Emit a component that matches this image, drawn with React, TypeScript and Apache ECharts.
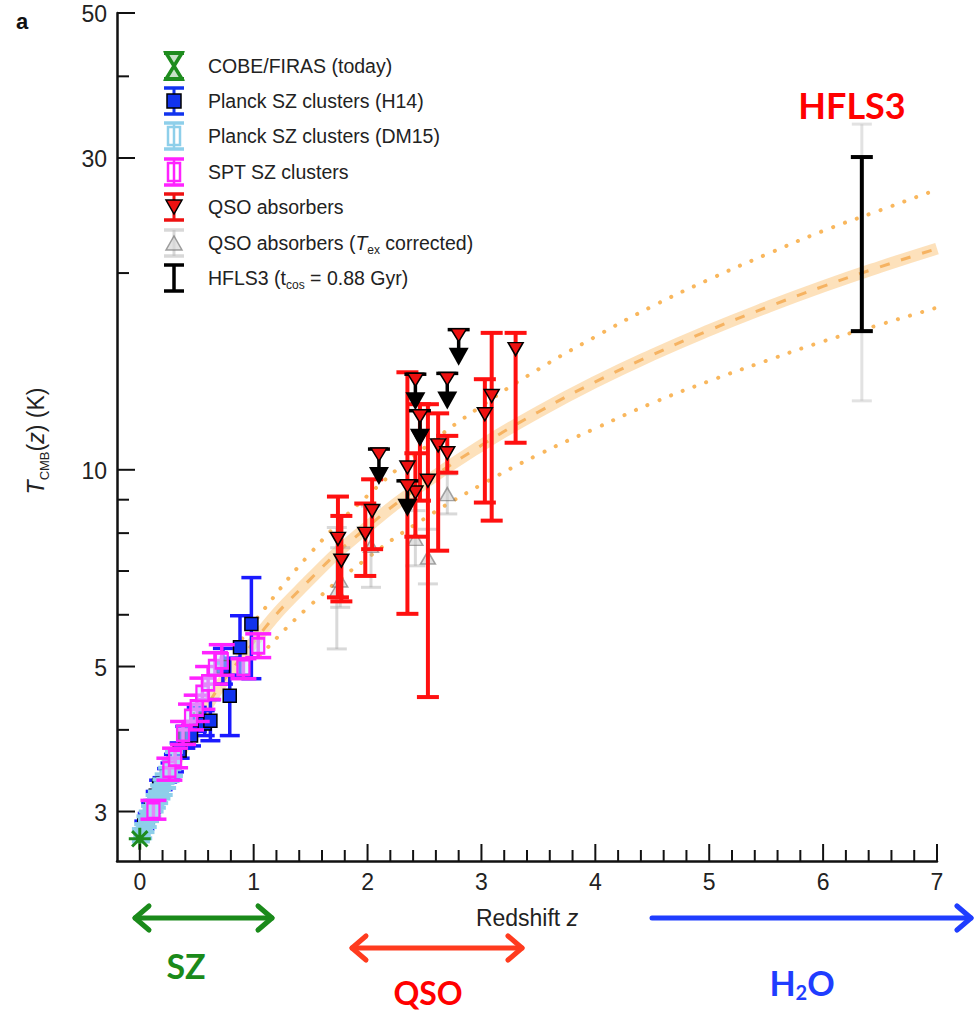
import React, { useEffect, useRef } from 'react';
import * as echarts from 'echarts';

// ---------- axis settings ----------
const Z_MIN = -0.2;
const Z_MAX = 7;
const T_MIN = 2.52;
const T_MAX = 50;

const xMajorTicks = [0, 1, 2, 3, 4, 5, 6, 7];
const xMinorSteps = [0.2, 0.4, 0.6, 0.8];
const yMajorTicks = [3, 5, 10, 30, 50];
const yMinorTicks = [4, 6, 7, 8, 9, 20, 40];

// ---------- data: [z, T, Tlow, Thigh] ----------
const cobeFiras = [[0, 2.725]];

const planckDM15 = [
  [0.01, 2.76, 2.70, 2.82],
  [0.03, 2.80, 2.73, 2.87],
  [0.05, 2.87, 2.79, 2.95],
  [0.07, 2.92, 2.84, 3.00],
  [0.09, 2.98, 2.90, 3.06],
  [0.11, 3.03, 2.94, 3.12],
  [0.13, 3.09, 3.00, 3.18],
  [0.15, 3.13, 3.04, 3.22],
  [0.17, 3.19, 3.09, 3.29],
  [0.19, 3.25, 3.14, 3.36],
  [0.21, 3.30, 3.18, 3.42],
  [0.24, 3.38, 3.26, 3.50],
  [0.27, 3.47, 3.34, 3.60],
  [0.30, 3.55, 3.40, 3.70],
];

const planckH14 = [
  [0.04, 2.86, 2.82, 2.90],
  [0.07, 2.94, 2.90, 2.98],
  [0.10, 3.04, 2.99, 3.09],
  [0.14, 3.17, 3.12, 3.22],
  [0.17, 3.29, 3.23, 3.35],
  [0.20, 3.31, 3.24, 3.38],
  [0.24, 3.41, 3.33, 3.49],
  [0.27, 3.47, 3.39, 3.56],
  [0.30, 3.56, 3.45, 3.67],
  [0.35, 3.72, 3.62, 3.82],
  [0.40, 3.90, 3.75, 4.05],
  [0.45, 3.92, 3.78, 4.06],
  [0.50, 4.15, 3.98, 4.33],
  [0.57, 4.09, 3.92, 4.28],
  [0.62, 4.13, 3.85, 4.45],
  [0.73, 4.99, 4.70, 5.33],
  [0.79, 4.51, 3.92, 5.15],
  [0.88, 5.35, 4.85, 5.98],
  [0.98, 5.81, 4.79, 6.84],
];

const sptSZ = [
  [0.12, 3.01, 2.92, 3.12],
  [0.26, 3.48, 3.35, 3.62],
  [0.31, 3.62, 3.50, 3.75],
  [0.38, 3.95, 3.80, 4.12],
  [0.45, 4.18, 4.00, 4.38],
  [0.50, 4.32, 4.12, 4.52],
  [0.55, 4.55, 4.30, 4.80],
  [0.60, 4.72, 4.45, 5.00],
  [0.66, 4.98, 4.70, 5.25],
  [0.72, 5.10, 4.85, 5.40],
  [0.91, 4.98, 4.79, 5.14],
  [1.04, 5.38, 5.16, 5.61],
];

const qsoCorrected = [
  [1.73, 6.53, 5.32, 8.16],
  [1.76, 6.77, 6.16, 7.60],
  [2.03, 7.65, 6.61, 8.80],
  [2.42, 7.84, 7.13, 8.66],
  [2.53, 7.34, 6.69, 8.11],
  [2.70, 9.18, 8.56, 9.85],
];

const qsoAbsorbers = [
  [1.74, 7.84, 6.38, 9.10],
  [1.77, 7.26, 6.29, 8.50],
  [1.98, 7.98, 6.88, 8.88],
  [2.04, 8.65, 7.56, 9.67],
  [2.35, 10.08, 6.02, 14.1],
  [2.42, 9.23, 7.90, 10.6],
  [2.46, 11.2, 8.97, 12.6],
  [2.53, 9.62, 4.49, 12.6],
  [2.62, 10.9, 7.52, 12.2],
  [2.70, 10.6, 9.90, 11.27],
  [3.03, 12.16, 8.91, 13.76],
  [3.09, 12.97, 8.36, 16.2],
  [3.30, 15.3, 11.0, 16.2],
];

// upper limits: [z, T]
const qsoUpperLimits = [
  [2.10, 10.57],
  [2.35, 9.45],
  [2.42, 13.76],
  [2.46, 12.1],
  [2.70, 13.8],
  [2.80, 16.1],
];

const hfls3 = [[6.34, 22.1, 16.3, 30.1]];
const hfls3Wide = [[6.34, 20.8, 12.75, 33.8]];

// model curves
const modelZ = [0, 0.5, 1, 1.5, 2, 2.5, 3, 3.5, 4, 4.5, 5, 5.5, 6, 6.5, 7];
const modelT = [2.73, 4.09, 5.45, 6.81, 8.18, 9.54, 10.9, 12.26, 13.63, 14.99, 16.35, 17.71, 19.08, 20.44, 21.8];
const boundZ = [0.9, 1, 1.5, 2, 2.5, 3, 3.5, 4, 4.5, 5, 5.5, 6, 6.5, 7];
const upperT = [5.52, 5.84, 7.46, 9.13, 10.81, 12.52, 14.25, 15.98, 17.79, 19.56, 21.35, 23.2, 24.95, 26.84];
const lowerT = [4.86, 5.08, 6.21, 7.33, 8.42, 9.49, 10.55, 11.57, 12.65, 13.67, 14.68, 15.72, 16.68, 17.71];

const legendLabels = [
  'COBE/FIRAS (today)',
  'Planck SZ clusters (H14)',
  'Planck SZ clusters (DM15)',
  'SPT SZ clusters',
  'QSO absorbers',
  '{n|QSO absorbers (}{i|T}{s|ex}{n| corrected)}',
  '{n|HFLS3 (t}{s|cos}{n| = 0.88 Gyr)}',
];

const FONT = '"Liberation Sans", Arial, Helvetica, sans-serif';
const GREEN = '#1E8C1E';
const BLUE = '#1133EE';
const LIGHTBLUE = '#8ECFEA';
const MAGENTA = '#FF22FF';
const RED = '#EE1111';
const GRAY_BAR = 'rgba(170,170,170,0.45)';

function errorBarRender(color: string, lw: number, capHalf: number) {
  return (_params: any, api: any) => {
    const z = api.value(0);
    const lo = api.value(2);
    const hi = api.value(3);
    const top = api.coord([z, hi]);
    const bot = api.coord([z, lo]);
    const style = { stroke: color, lineWidth: lw };
    return {
      type: 'group',
      children: [
        { type: 'line', shape: { x1: top[0], y1: top[1], x2: bot[0], y2: bot[1] }, style },
        { type: 'line', shape: { x1: top[0] - capHalf, y1: top[1], x2: top[0] + capHalf, y2: top[1] }, style },
        { type: 'line', shape: { x1: bot[0] - capHalf, y1: bot[1], x2: bot[0] + capHalf, y2: bot[1] }, style },
      ],
    };
  };
}

function upperLimitRender(_params: any, api: any) {
  const p = api.coord([api.value(0), api.value(1)]);
  const x = p[0];
  const y = p[1];
  return {
    type: 'group',
    children: [
      { type: 'line', shape: { x1: x, y1: y, x2: x, y2: y + 18 }, style: { stroke: '#000', lineWidth: 3.5 } },
      { type: 'polygon', shape: { points: [[x - 10, y + 13], [x + 10, y + 13], [x, y + 31]] }, style: { fill: '#000' } },
      { type: 'line', shape: { x1: x - 11, y1: y - 5, x2: x + 11, y2: y - 5 }, style: { stroke: '#000', lineWidth: 3.5 } },
      {
        type: 'polygon',
        shape: { points: [[x - 8, y - 6], [x + 8, y - 6], [x, y + 7]] },
        style: { fill: RED, stroke: '#000', lineWidth: 1.5 },
      },
    ],
  };
}

function xTickRender(_params: any, api: any) {
  const z = api.value(0);
  const major = api.value(2) === 1;
  const p = api.coord([z, T_MIN]);
  const children: any[] = [
    { type: 'line', shape: { x1: p[0], y1: p[1], x2: p[0], y2: p[1] - (major ? 17 : 11) }, style: { stroke: '#111', lineWidth: 2 } },
  ];
  if (major) {
    children.push({
      type: 'text',
      x: p[0],
      y: p[1] + 9,
      style: { text: String(z), fontSize: 23, fontFamily: FONT, fill: '#222', align: 'center', verticalAlign: 'top' },
    });
  }
  return { type: 'group', children };
}

function yTickRender(_params: any, api: any) {
  const t = api.value(1);
  const major = api.value(2) === 1;
  const p = api.coord([Z_MIN, t]);
  const children: any[] = [
    { type: 'line', shape: { x1: p[0], y1: p[1], x2: p[0] + (major ? 18 : 12), y2: p[1] }, style: { stroke: '#111', lineWidth: 2 } },
  ];
  if (major) {
    children.push({
      type: 'text',
      x: p[0] - 10,
      y: p[1] + 1,
      style: { text: String(t), fontSize: 23, fontFamily: FONT, fill: '#222', align: 'right', verticalAlign: 'middle' },
    });
  }
  return { type: 'group', children };
}

function legendGlyph(i: number, cx: number, y: number): any[] {
  const cap = (c: string, lw = 3.5) => [
    { type: 'line', shape: { x1: cx - 10, y1: y - 13, x2: cx + 10, y2: y - 13 }, style: { stroke: c, lineWidth: lw } },
    { type: 'line', shape: { x1: cx - 10, y1: y + 13, x2: cx + 10, y2: y + 13 }, style: { stroke: c, lineWidth: lw } },
  ];
  const vline = (c: string, lw = 3) => ({ type: 'line', shape: { x1: cx, y1: y - 13, x2: cx, y2: y + 13 }, style: { stroke: c, lineWidth: lw } });
  switch (i) {
    case 0:
      return [
        ...cap(GREEN, 4),
        { type: 'polygon', shape: { points: [[cx - 8, y - 13], [cx + 8, y - 13], [cx, y], [cx + 8, y + 13], [cx - 8, y + 13], [cx, y]] }, style: { fill: 'rgba(30,140,30,0.25)', stroke: GREEN, lineWidth: 3.5 } },
      ];
    case 1:
      return [
        ...cap(BLUE),
        vline(BLUE),
        { type: 'rect', shape: { x: cx - 7, y: y - 7, width: 14, height: 14 }, style: { fill: BLUE, stroke: '#000', lineWidth: 1.5 } },
      ];
    case 2:
      return [
        ...cap(LIGHTBLUE),
        vline(LIGHTBLUE, 2.5),
        { type: 'rect', shape: { x: cx - 6, y: y - 9, width: 12, height: 18 }, style: { fill: 'none', stroke: LIGHTBLUE, lineWidth: 2.5 } },
      ];
    case 3:
      return [
        ...cap(MAGENTA),
        vline(MAGENTA, 2.5),
        { type: 'rect', shape: { x: cx - 6, y: y - 9, width: 12, height: 18 }, style: { fill: 'none', stroke: MAGENTA, lineWidth: 2.5 } },
      ];
    case 4:
      return [
        ...cap(RED),
        vline(RED),
        { type: 'polygon', shape: { points: [[cx - 8, y - 7], [cx + 8, y - 7], [cx, y + 7]] }, style: { fill: RED, stroke: '#000', lineWidth: 1.5 } },
      ];
    case 5:
      return [
        ...cap('rgba(190,190,190,0.6)'),
        vline('rgba(190,190,190,0.6)'),
        { type: 'polygon', shape: { points: [[cx - 8, y + 7], [cx + 8, y + 7], [cx, y - 7]] }, style: { fill: 'rgba(215,215,215,0.7)', stroke: 'rgba(120,120,120,0.7)', lineWidth: 1.5 } },
      ];
    default:
      return [...cap('#000'), vline('#000', 3.5)];
  }
}

function arrow(x1: number, x2: number, y: number, color: string, both: boolean): any[] {
  const lw = 5;
  const els: any[] = [
    { type: 'line', shape: { x1, y1: y, x2, y2: y }, style: { stroke: color, lineWidth: lw, lineCap: 'round' } },
    { type: 'polyline', shape: { points: [[x2 - 14, y - 12], [x2, y], [x2 - 14, y + 12]] }, style: { stroke: color, lineWidth: lw, fill: 'none', lineCap: 'round', lineJoin: 'round' } },
  ];
  if (both) {
    els.push({ type: 'polyline', shape: { points: [[x1 + 14, y - 12], [x1, y], [x1 + 14, y + 12]] }, style: { stroke: color, lineWidth: lw, fill: 'none', lineCap: 'round', lineJoin: 'round' } });
  }
  return els;
}

function buildOption(): any {
  const xTickData: number[][] = [];
  xMajorTicks.forEach((z) => xTickData.push([z, T_MIN, 1]));
  xMajorTicks.slice(0, -1).forEach((z) => xMinorSteps.forEach((s) => xTickData.push([+(z + s).toFixed(2), T_MIN, 0])));
  const yTickData: number[][] = [];
  yMajorTicks.forEach((t) => yTickData.push([Z_MIN, t, 1]));
  yMinorTicks.forEach((t) => yTickData.push([Z_MIN, t, 0]));

  const legendRows = [66, 101, 136, 172, 207, 243, 278];
  const legendEls: any[] = [];
  legendRows.forEach((ry, i) => {
    legendEls.push(...legendGlyph(i, 174, ry));
    legendEls.push({
      type: 'text',
      x: 208,
      y: ry,
      style: {
        text: legendLabels[i],
        fontSize: 19.5,
        fontFamily: FONT,
        fill: '#222',
        verticalAlign: 'middle',
        align: 'left',
        lineHeight: 26,
        rich: {
          n: { fontSize: 19.5, fontFamily: FONT, fill: '#222', lineHeight: 26 },
          i: { fontSize: 19.5, fontFamily: FONT, fill: '#222', fontStyle: 'italic', lineHeight: 26 },
          s: { fontSize: 12, fontFamily: FONT, fill: '#222', lineHeight: 12, verticalAlign: 'bottom' },
        },
      },
    });
  });

  const annoFont = 'Lato, "Open Sans", sans-serif';

  const graphics: any[] = [
    { type: 'text', x: 22, y: 21, style: { text: 'a', fontSize: 22, fontWeight: 'bold', fontFamily: FONT, fill: '#111', align: 'center', verticalAlign: 'middle' } },
    ...legendEls,
    {
      type: 'text',
      x: 36,
      y: 441,
      rotation: Math.PI / 2,
      style: {
        text: '{i|T}{s|CMB}{n|(}{i|z}{n|) (K)}',
        fontSize: 23,
        fontFamily: FONT,
        fill: '#222',
        align: 'center',
        verticalAlign: 'middle',
        lineHeight: 30,
        rich: {
          n: { fontSize: 23, fontFamily: FONT, fill: '#222', lineHeight: 30 },
          i: { fontSize: 23, fontFamily: FONT, fill: '#222', fontStyle: 'italic', lineHeight: 30 },
          s: { fontSize: 13, fontFamily: FONT, fill: '#222', lineHeight: 14, verticalAlign: 'bottom' },
        },
      },
    },
    {
      type: 'text',
      x: 527,
      y: 918,
      style: {
        text: '{n|Redshift }{i|z}',
        fontSize: 23,
        fontFamily: FONT,
        fill: '#222',
        align: 'center',
        verticalAlign: 'middle',
        rich: {
          n: { fontSize: 23, fontFamily: FONT, fill: '#222' },
          i: { fontSize: 23, fontFamily: FONT, fill: '#222', fontStyle: 'italic' },
        },
      },
    },
    ...arrow(135, 272, 918, '#1A8A1A', true),
    ...arrow(352, 522, 948, '#FF3B1E', true),
    ...arrow(652, 971, 918, '#1F3DFF', false),
    { type: 'text', x: 186, y: 965, style: { text: 'SZ', fontSize: 34, fontWeight: 'bold', fontFamily: annoFont, fill: '#1A8A1A', align: 'center', verticalAlign: 'middle' } },
    { type: 'text', x: 428, y: 992, style: { text: 'QSO', fontSize: 32, fontWeight: 'bold', fontFamily: annoFont, fill: '#FF0000', align: 'center', verticalAlign: 'middle' } },
    {
      type: 'text',
      x: 802,
      y: 982,
      style: {
        text: '{b|H}{s|2}{b|O}',
        fontSize: 34,
        fontWeight: 'bold',
        fontFamily: annoFont,
        fill: '#1F3DFF',
        align: 'center',
        verticalAlign: 'middle',
        lineHeight: 40,
        rich: {
          b: { fontSize: 34, fontWeight: 'bold', fontFamily: annoFont, fill: '#1F3DFF', lineHeight: 40 },
          s: { fontSize: 20, fontWeight: 'bold', fontFamily: annoFont, fill: '#1F3DFF', lineHeight: 18, verticalAlign: 'bottom' },
        },
      },
    },
    { type: 'text', x: 852, y: 105, style: { text: 'HFLS3', fontSize: 36, fontWeight: 'bold', fontFamily: annoFont, fill: '#FF0000', align: 'center', verticalAlign: 'middle' } },
  ];

  const bar = (name: string, data: number[][], color: string, lw: number, cap: number, z: number) => ({
    name,
    type: 'custom',
    data,
    encode: { x: 0, y: 1 },
    renderItem: errorBarRender(color, lw, cap),
    clip: false,
    silent: true,
    z,
  });
  const pts = (name: string, data: number[][], symbol: string, size: any, itemStyle: any, z: number, rotate = 0) => ({
    name,
    type: 'scatter',
    data: data.map((d) => [d[0], d[1]]),
    symbol,
    symbolSize: size,
    symbolRotate: rotate,
    itemStyle: { opacity: 1, ...itemStyle },
    silent: true,
    z,
  });

  const dotted = { color: 'rgba(247,165,53,0.8)', width: 4, type: [0.1, 12.5], cap: 'round' };

  return {
    animation: false,
    backgroundColor: '#ffffff',
    grid: { left: 117, right: 37, top: 13, bottom: 153, containLabel: false },
    xAxis: {
      type: 'value',
      min: Z_MIN,
      max: Z_MAX,
      axisLine: { show: true, onZero: false, lineStyle: { color: '#111', width: 2.5 } },
      axisTick: { show: false },
      axisLabel: { show: false },
      splitLine: { show: false },
    },
    yAxis: {
      type: 'log',
      logBase: 10,
      min: T_MIN,
      max: T_MAX,
      axisLine: { show: true, onZero: false, lineStyle: { color: '#111', width: 2.5 } },
      axisTick: { show: false },
      axisLabel: { show: false },
      splitLine: { show: false },
      minorSplitLine: { show: false },
    },
    graphic: graphics,
    series: [
      {
        name: 'model band',
        type: 'line',
        data: modelZ.map((z, i) => [z, modelT[i]]),
        smooth: true,
        symbol: 'none',
        lineStyle: { color: 'rgba(252,196,120,0.5)', width: 12 },
        silent: true,
        z: 1,
      },
      {
        name: 'model',
        type: 'line',
        data: modelZ.map((z, i) => [z, modelT[i]]),
        smooth: true,
        symbol: 'none',
        lineStyle: { color: 'rgba(242,160,60,0.7)', width: 3, type: [10, 12] },
        silent: true,
        z: 1,
      },
      {
        name: 'upper',
        type: 'line',
        data: boundZ.map((z, i) => [z, upperT[i]]),
        smooth: true,
        symbol: 'none',
        lineStyle: dotted,
        silent: true,
        z: 1,
      },
      {
        name: 'lower',
        type: 'line',
        data: boundZ.map((z, i) => [z, lowerT[i]]),
        smooth: true,
        symbol: 'none',
        lineStyle: dotted,
        silent: true,
        z: 1,
      },
      bar('H14 bars', planckH14, '#1A1AFF', 3.5, 10, 2),
      pts('Planck SZ clusters (H14)', planckH14, 'rect', 13, { color: BLUE, borderColor: '#000', borderWidth: 1.5 }, 3),
      bar('DM15 bars', planckDM15, LIGHTBLUE, 4, 9, 4),
      pts('Planck SZ clusters (DM15)', planckDM15, 'rect', 14, { color: LIGHTBLUE, borderColor: LIGHTBLUE, borderWidth: 1 }, 5),
      bar('SPT bars', sptSZ, MAGENTA, 3.5, 13, 6),
      pts('SPT SZ clusters', sptSZ, 'rect', [12, 15], { color: 'rgba(200,235,250,0.5)', borderColor: MAGENTA, borderWidth: 2.5 }, 7),
      bar('QSO corr bars', qsoCorrected, GRAY_BAR, 3, 10, 8),
      pts('QSO absorbers (Tex corrected)', qsoCorrected, 'triangle', [15, 13], { color: 'rgba(200,200,200,0.55)', borderColor: 'rgba(110,110,110,0.6)', borderWidth: 1.5 }, 9),
      bar('QSO bars', qsoAbsorbers, '#FF1010', 4, 11, 10),
      pts('QSO absorbers', qsoAbsorbers, 'triangle', [15, 13], { color: RED, borderColor: '#000', borderWidth: 1.5 }, 11, 180),
      {
        name: 'QSO upper limits',
        type: 'custom',
        data: qsoUpperLimits,
        encode: { x: 0, y: 1 },
        renderItem: upperLimitRender,
        clip: false,
        silent: true,
        z: 12,
      },
      bar('HFLS3 wide', hfls3Wide, 'rgba(190,190,190,0.45)', 3, 10, 13),
      bar('HFLS3', hfls3, '#000', 4, 11, 14),
      pts('COBE/FIRAS (today)', cobeFiras, 'path://M10,0L10,20M0,10L20,10M3,3L17,17M17,3L3,17', 22, { color: 'none', borderColor: GREEN, borderWidth: 3 }, 15),
      {
        name: 'x ticks',
        type: 'custom',
        data: xTickData,
        encode: { x: 0, y: 1 },
        renderItem: xTickRender,
        clip: false,
        silent: true,
        z: 20,
      },
      {
        name: 'y ticks',
        type: 'custom',
        data: yTickData,
        encode: { x: 0, y: 1 },
        renderItem: yTickRender,
        clip: false,
        silent: true,
        z: 20,
      },
    ],
  };
}

export default function App() {
  const ref = useRef<HTMLDivElement>(null);
  useEffect(() => {
    if (!ref.current) return;
    const chart = echarts.init(ref.current, null, { renderer: 'svg' });
    chart.setOption(buildOption());
    return () => chart.dispose();
  }, []);
  return (
    <div
      ref={ref}
      style={{ position: 'fixed', left: 0, top: 0, width: 974, height: 1014, background: '#fff' }}
    />
  );
}
